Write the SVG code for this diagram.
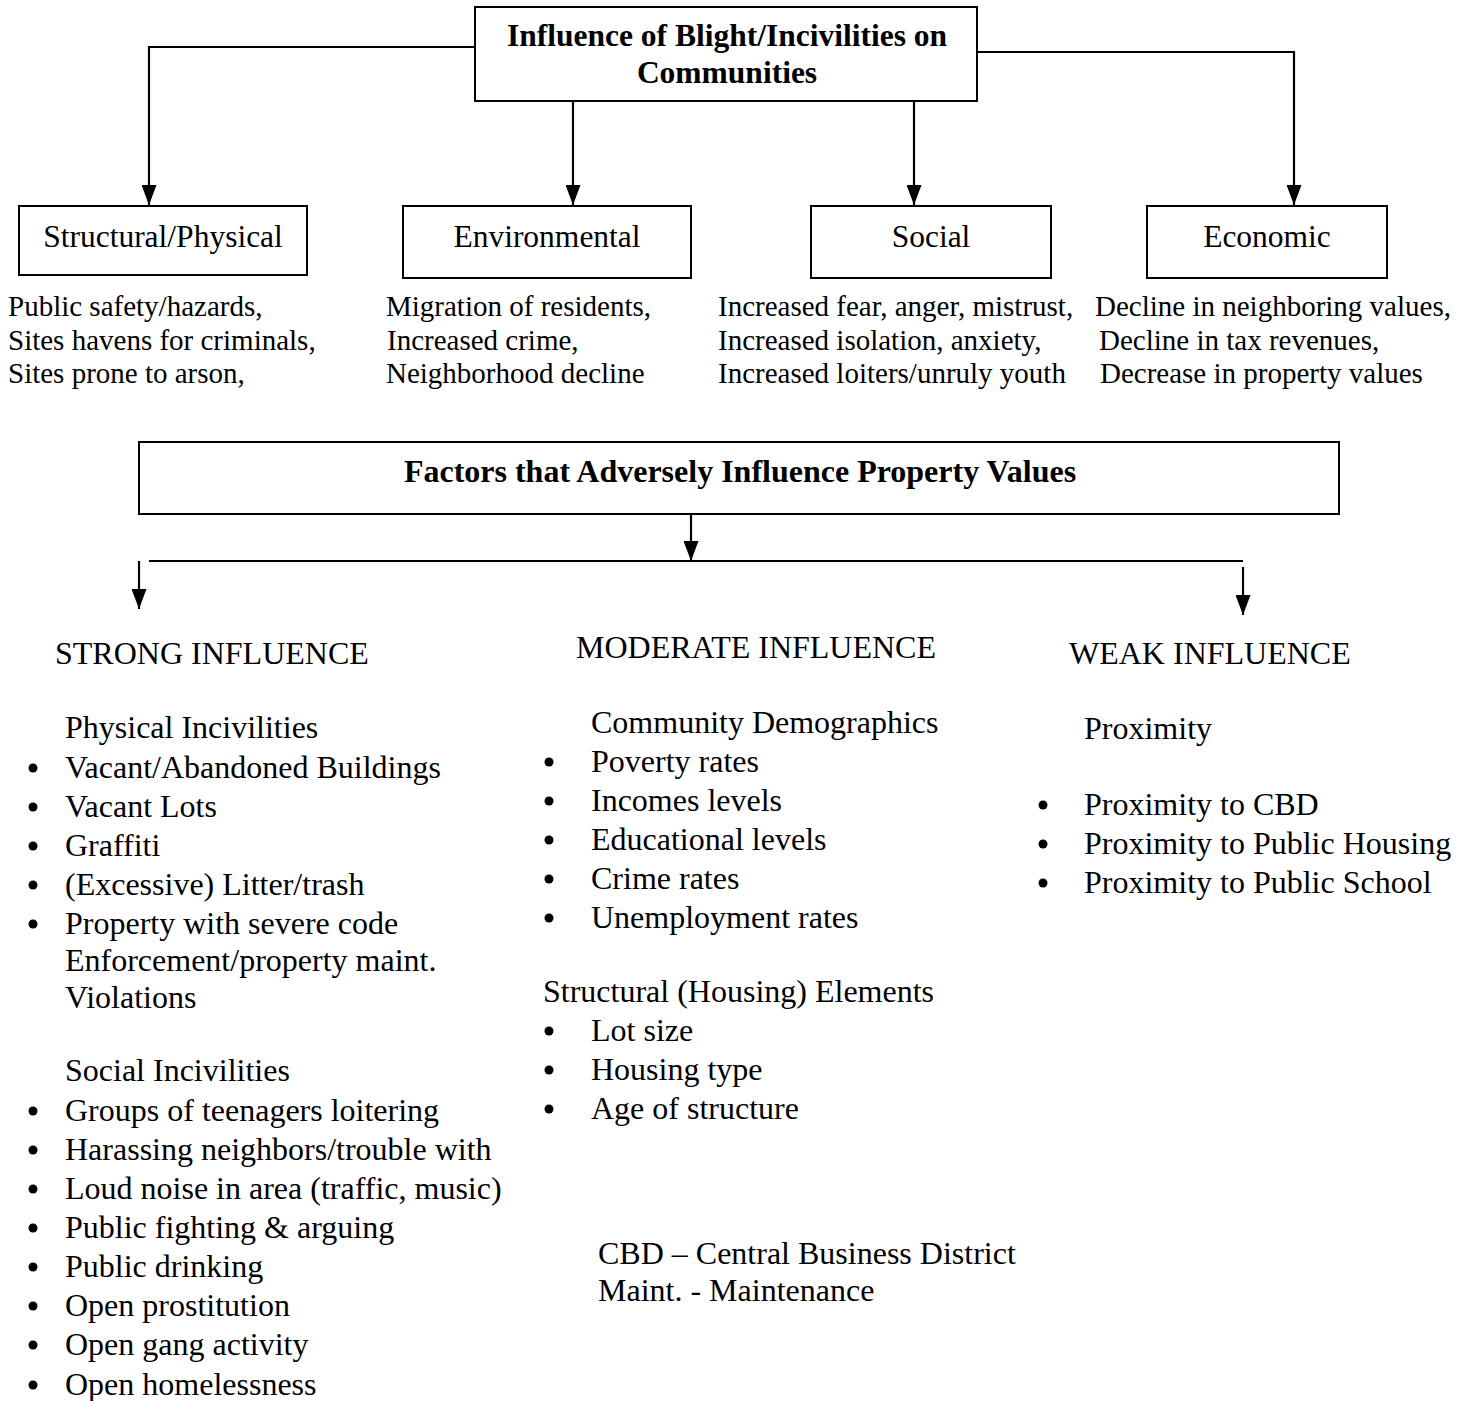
<svg xmlns="http://www.w3.org/2000/svg" width="1471" height="1401" viewBox="0 0 1471 1401">
<style>
  .box { fill: #fff; stroke: #000; stroke-width: 2; }
  .conn { fill: none; stroke: #000; stroke-width: 2.2; }
  text { font-family: "Liberation Serif", "Times New Roman", serif; fill: #000; }
  .title { font-size: 31.5px; font-weight: bold; text-anchor: middle; }
  .lbl { font-size: 31.5px; text-anchor: middle; }
  .desc { font-size: 29px; }
  .body { font-size: 32px; }
  .bul { fill: #000; }
</style>
<defs>
  <marker id="ah" markerUnits="userSpaceOnUse" markerWidth="20" markerHeight="15" refX="20" refY="7.5" orient="auto" viewBox="0 0 20 15">
    <path d="M0,0 L20,7.5 L0,15 Z" fill="#000"/>
  </marker>
</defs>
<rect width="1471" height="1401" fill="#fff"/>

<g id="connectors">
  <path class="conn" d="M475,47 H149 V205" marker-end="url(#ah)"/>
  <path class="conn" d="M573,101 V205" marker-end="url(#ah)"/>
  <path class="conn" d="M914,101 V205" marker-end="url(#ah)"/>
  <path class="conn" d="M977,52 H1294 V205" marker-end="url(#ah)"/>
  <path class="conn" d="M691,514 V561" marker-end="url(#ah)"/>
  <path class="conn" d="M149,561 H1243"/>
  <path class="conn" d="M139,561 V609" marker-end="url(#ah)"/>
  <path class="conn" d="M1243,567 V615" marker-end="url(#ah)"/>
</g>

<g id="top-node">
  <rect class="box" x="475" y="7" width="502" height="94"/>
  <text class="title" x="727" y="46">Influence of Blight/Incivilities on</text>
  <text class="title" x="727" y="83">Communities</text>
</g>

<g id="structural-node">
  <rect class="box" x="19" y="206" width="288" height="69"/>
  <text class="lbl" x="163" y="247">Structural/Physical</text>
</g>
<g id="environmental-node">
  <rect class="box" x="403" y="206" width="288" height="72"/>
  <text class="lbl" x="547" y="247">Environmental</text>
</g>
<g id="social-node">
  <rect class="box" x="811" y="206" width="240" height="72"/>
  <text class="lbl" x="931" y="247">Social</text>
</g>
<g id="economic-node">
  <rect class="box" x="1147" y="206" width="240" height="72"/>
  <text class="lbl" x="1267" y="247">Economic</text>
</g>

<g id="descriptions">
  <text class="desc" x="8" y="316">Public safety/hazards,</text>
  <text class="desc" x="8" y="350">Sites havens for criminals,</text>
  <text class="desc" x="8" y="383">Sites prone to arson,</text>
  <text class="desc" x="386" y="316">Migration of residents,</text>
  <text class="desc" x="387" y="350">Increased crime,</text>
  <text class="desc" x="386" y="383">Neighborhood decline</text>
  <text class="desc" x="718" y="316">Increased fear, anger, mistrust,</text>
  <text class="desc" x="718" y="350">Increased isolation, anxiety,</text>
  <text class="desc" x="718" y="383">Increased loiters/unruly youth</text>
  <text class="desc" x="1095" y="316">Decline in neighboring values,</text>
  <text class="desc" x="1099" y="350">Decline in tax revenues,</text>
  <text class="desc" x="1100" y="383">Decrease in property values</text>
</g>

<g id="factors-node">
  <rect class="box" x="139" y="442" width="1200" height="72"/>
  <text class="title" x="740" y="482" style="font-size:32px">Factors that Adversely Influence Property Values</text>
</g>

<g id="strong">
  <text class="body" x="55" y="664">STRONG INFLUENCE</text>
  <text class="body" x="65" y="738">Physical Incivilities</text>
  <circle class="bul" cx="33" cy="768" r="4.5"/>
  <text class="body" x="65" y="778">Vacant/Abandoned Buildings</text>
  <circle class="bul" cx="33" cy="807" r="4.5"/>
  <text class="body" x="65" y="817">Vacant Lots</text>
  <circle class="bul" cx="33" cy="846" r="4.5"/>
  <text class="body" x="65" y="856">Graffiti</text>
  <circle class="bul" cx="33" cy="885" r="4.5"/>
  <text class="body" x="65" y="895">(Excessive) Litter/trash</text>
  <circle class="bul" cx="33" cy="924" r="4.5"/>
  <text class="body" x="65" y="934">Property with severe code</text>
  <text class="body" x="65" y="971">Enforcement/property maint.</text>
  <text class="body" x="65" y="1008">Violations</text>
  <text class="body" x="65" y="1081">Social Incivilities</text>
  <circle class="bul" cx="33" cy="1111" r="4.5"/>
  <text class="body" x="65" y="1121">Groups of teenagers loitering</text>
  <circle class="bul" cx="33" cy="1150" r="4.5"/>
  <text class="body" x="65" y="1160">Harassing neighbors/trouble with</text>
  <circle class="bul" cx="33" cy="1189" r="4.5"/>
  <text class="body" x="65" y="1199">Loud noise in area (traffic, music)</text>
  <circle class="bul" cx="33" cy="1228" r="4.5"/>
  <text class="body" x="65" y="1238">Public fighting &amp; arguing</text>
  <circle class="bul" cx="33" cy="1267" r="4.5"/>
  <text class="body" x="65" y="1277">Public drinking</text>
  <circle class="bul" cx="33" cy="1306" r="4.5"/>
  <text class="body" x="65" y="1316">Open prostitution</text>
  <circle class="bul" cx="33" cy="1345" r="4.5"/>
  <text class="body" x="65" y="1355">Open gang activity</text>
  <circle class="bul" cx="33" cy="1385" r="4.5"/>
  <text class="body" x="65" y="1395">Open homelessness</text>
</g>

<g id="moderate">
  <text class="body" x="576" y="658">MODERATE INFLUENCE</text>
  <text class="body" x="591" y="733">Community Demographics</text>
  <circle class="bul" cx="549" cy="762" r="4.5"/>
  <text class="body" x="591" y="772">Poverty rates</text>
  <circle class="bul" cx="549" cy="801" r="4.5"/>
  <text class="body" x="591" y="811">Incomes levels</text>
  <circle class="bul" cx="549" cy="840" r="4.5"/>
  <text class="body" x="591" y="850">Educational levels</text>
  <circle class="bul" cx="549" cy="879" r="4.5"/>
  <text class="body" x="591" y="889">Crime rates</text>
  <circle class="bul" cx="549" cy="918" r="4.5"/>
  <text class="body" x="591" y="928">Unemployment rates</text>
  <text class="body" x="543" y="1002">Structural (Housing) Elements</text>
  <circle class="bul" cx="549" cy="1031" r="4.5"/>
  <text class="body" x="591" y="1041">Lot size</text>
  <circle class="bul" cx="549" cy="1070" r="4.5"/>
  <text class="body" x="591" y="1080">Housing type</text>
  <circle class="bul" cx="549" cy="1109" r="4.5"/>
  <text class="body" x="591" y="1119">Age of structure</text>
  <text class="body" x="598" y="1264">CBD – Central Business District</text>
  <text class="body" x="598" y="1301">Maint. - Maintenance</text>
</g>

<g id="weak">
  <text class="body" x="1069" y="664">WEAK INFLUENCE</text>
  <text class="body" x="1084" y="739">Proximity</text>
  <circle class="bul" cx="1043" cy="805" r="4.5"/>
  <text class="body" x="1084" y="815">Proximity to CBD</text>
  <circle class="bul" cx="1043" cy="844" r="4.5"/>
  <text class="body" x="1084" y="854">Proximity to Public Housing</text>
  <circle class="bul" cx="1043" cy="883" r="4.5"/>
  <text class="body" x="1084" y="893">Proximity to Public School</text>
</g>
</svg>
